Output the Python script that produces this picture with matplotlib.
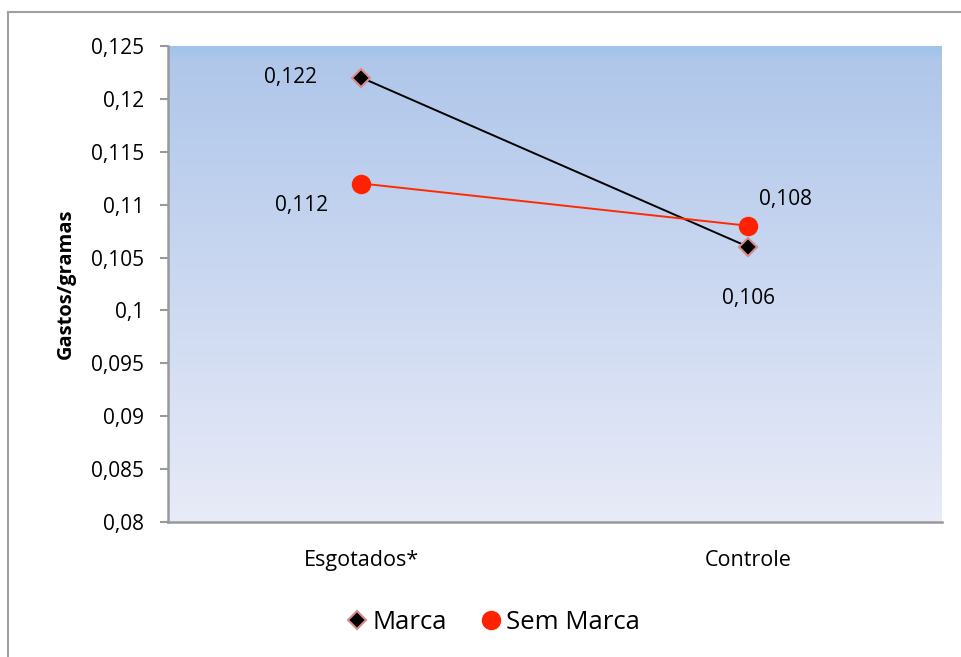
import numpy as np
import matplotlib.pyplot as plt
from matplotlib.lines import Line2D

# spending per gram, by condition
categorias = ["Esgotados*", "Controle"]
marca = [0.122, 0.106]
sem_marca = [0.112, 0.108]
y_ticks = [0.08, 0.085, 0.09, 0.095, 0.1, 0.105, 0.11, 0.115, 0.12, 0.125]

plt.rcParams['font.family'] = ['Open Sans', 'DejaVu Sans']

def virgula(v):
    return "{:g}".format(v).replace(".", ",")

fig = plt.figure(figsize=(9.61, 6.57), dpi=100)
ax = fig.add_axes([0.1748, 0.2055, 0.8054, 0.7245])

x = np.arange(len(categorias))
ax.set_xlim(-0.5, 1.5)
ax.set_ylim(0.08, 0.125)

# blue-to-lavender background gradient
grad = np.linspace(0, 1, 256).reshape(-1, 1)
top = np.array([0.62, 0.77, 0.92])
mid = np.array([0.69, 0.78, 0.92])
bot = np.array([0.91, 0.92, 0.97])
cores = np.where(grad[..., None] < 0.03,
                 top + (mid - top) * (grad[..., None] / 0.03),
                 mid + (bot - mid) * ((grad[..., None] - 0.03) / 0.97))
ax.imshow(cores, extent=[-0.5, 1.5, 0.08, 0.125], aspect='auto', zorder=0, origin='upper')

ax.plot(x, marca, color='black', lw=1.4, marker='D', ms=9,
        markerfacecolor='black', markeredgecolor='#d88a8a', markeredgewidth=1.5,
        label='Marca', zorder=3)
ax.plot(x, sem_marca, color='#ff2a00', lw=1.4, marker='o', ms=13,
        markerfacecolor='#ff2200', markeredgecolor='#ff2200',
        label='Sem Marca', zorder=3)

# value labels
rot_fs = 15
ax.annotate(virgula(marca[0]), (x[0], marca[0]), xytext=(-51, 0), textcoords='offset points',
            ha='center', va='center', fontsize=rot_fs)
ax.annotate(virgula(sem_marca[0]), (x[0], sem_marca[0]), xytext=(-43, -16), textcoords='offset points',
            ha='center', va='center', fontsize=rot_fs)
ax.annotate(virgula(sem_marca[1]), (x[1], sem_marca[1]), xytext=(27, 19), textcoords='offset points',
            ha='center', va='center', fontsize=rot_fs)
ax.annotate(virgula(marca[1]), (x[1], marca[1]), xytext=(0, -37), textcoords='offset points',
            ha='center', va='center', fontsize=rot_fs)

ax.set_xticks(x)
ax.set_xticklabels(categorias, fontsize=15.5)
ax.tick_params(axis='x', length=0, pad=20)
ax.set_yticks(y_ticks)
ax.set_yticklabels([virgula(v) for v in y_ticks], fontsize=15)
ax.tick_params(axis='y', length=6, width=1.5, color='#999999', pad=11)
ax.set_ylabel("Gastos/gramas", fontsize=14.5, fontweight='bold', labelpad=11)

for s in ['top', 'right']:
    ax.spines[s].set_visible(False)
for s in ['left', 'bottom']:
    ax.spines[s].set_color('#999999')
    ax.spines[s].set_linewidth(1.8)

leg = fig.legend(handles=ax.get_lines(), loc='center', bbox_to_anchor=(0.515, 0.052), ncol=2,
                 frameon=False, fontsize=18.5, handlelength=0.6, handletextpad=0.3,
                 columnspacing=1.4)

# outer chart frame
fig.add_artist(Line2D([8 / 961, 8 / 961], [0, 1 - 12 / 657], transform=fig.transFigure,
                      color='#a0a0a0', lw=1.5))
fig.add_artist(Line2D([8 / 961, 1], [1 - 12 / 657, 1 - 12 / 657], transform=fig.transFigure,
                      color='#a0a0a0', lw=1.5))

fig.savefig("out.png", dpi=100)
